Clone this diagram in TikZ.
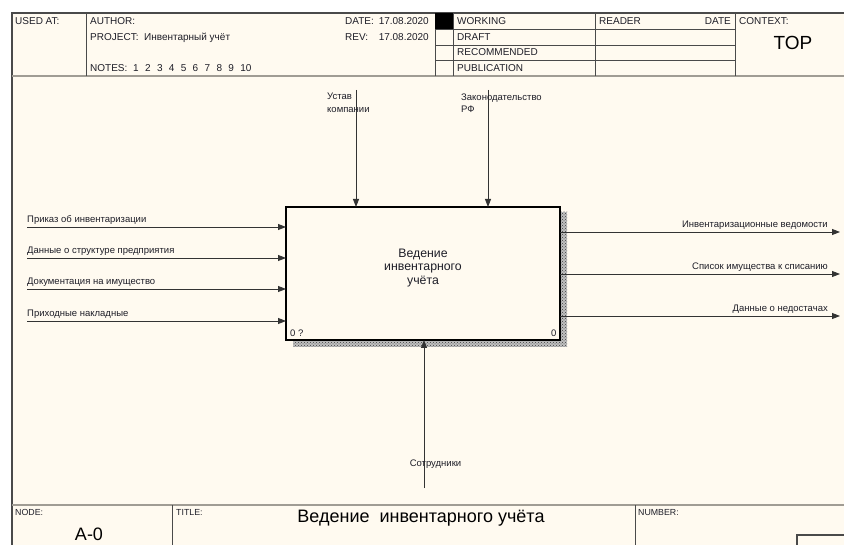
\documentclass[tikz,border=0pt]{standalone}
\usepackage{fontspec}
\setmainfont{Liberation Sans}
\usepackage{tkz-euclide}
\usetikzlibrary{arrows.meta,patterns}

\definecolor{paper}{HTML}{FFFAF0}
\definecolor{frameline}{HTML}{4A4A4A}
\definecolor{softline}{HTML}{A09C94}
\definecolor{ink}{HTML}{1E1E28}

\tikzset{
  flow/.style={line width=0.9pt,draw=black!80,-{Triangle[length=8pt,width=6pt]}},
  hdr/.style={font=\fontsize{10}{12}\selectfont,text=ink,inner sep=0pt,anchor=base west},
  tag/.style={font=\fontsize{9.5}{12.5}\selectfont,text=ink,inner sep=0pt,anchor=base west},
  rtag/.style={tag,anchor=base east},
  foot/.style={font=\fontsize{8.8}{10}\selectfont,text=ink,inner sep=0pt,anchor=base west},
  big/.style={font=\fontsize{18}{20}\selectfont,text=black,inner sep=0pt,anchor=base}
}

\begin{document}
\begin{tikzpicture}[x=1pt,y=-1pt]
\useasboundingbox (0,0) rectangle (844,545);
\fill[white] (0,0) rectangle (844,545);
\fill[paper] (12,13) rectangle (844,545);

% form lines
\draw[frameline,line width=1.3pt] (12,545) -- (12,13) -- (844,13);
\draw[softline,line width=1.8pt] (12,76) -- (844,76);
\draw[softline,line width=1.8pt] (12,505) -- (844,505);
\draw[frameline] (86,13) -- (86,76) (435,13) -- (435,76) (453,13) -- (453,76)
  (595,13) -- (595,76) (735,13) -- (735,76);
\foreach \y in {29,45,60} \draw[frameline] (435,\y) -- (735,\y);
\fill[black] (435,13) rectangle (453,29);
\draw[frameline] (172,505) -- (172,545) (635,505) -- (635,545);
\draw[frameline,line width=1.3pt] (797,545) -- (797,535) -- (844,535);

% header texts
\node[hdr] (usedat) at (15,25) {USED AT:};
\node[hdr] (author) at (90,25) {AUTHOR:};
\node[hdr] (project) at (90,40.5) {PROJECT:\ \ Инвентарный учёт};
\node[hdr] (notes) at (90,72) {NOTES:};
\foreach \n in {1,...,10} \node[hdr] at ({133+11.9*(\n-1)},72) {\n};
\node[hdr] (date) at (345,25) {DATE:};
\node[hdr,anchor=base east] (dateval) at (429,25) {17.08.2020};
\node[hdr] (rev) at (345,40.5) {REV:};
\node[hdr,anchor=base east] (revval) at (429,40.5) {17.08.2020};
\node[hdr] (working) at (457,25) {WORKING};
\node[hdr] (draft) at (457,40.5) {DRAFT};
\node[hdr] (recommended) at (457,56) {RECOMMENDED};
\node[hdr] (publication) at (457,71.5) {PUBLICATION};
\node[hdr] (reader) at (599,25) {READER};
\node[hdr,anchor=base east] (readerdate) at (731,25) {DATE};
\node[hdr] (context) at (739,25) {CONTEXT:};
\node[font=\fontsize{19}{21}\selectfont,inner sep=0pt,anchor=base] (top) at (793,50) {TOP};

% footer texts
\node[foot] (nodelbl) at (15,515) {NODE:};
\node[big] (nodenum) at (89,540.5) {A-0};
\node[foot] (titlelbl) at (176,515) {TITLE:};
\node[big] (title) at (421,522) {Ведение\ \ инвентарного учёта};
\node[foot] (numberlbl) at (638,515) {NUMBER:};

% activity box with shadow
\fill[black!25] (293,212) rectangle (567,347);
\fill[pattern=crosshatch dots,pattern color=black!75] (293,212) rectangle (567,347);
\node[draw=black,line width=1.7pt,fill=paper,minimum width=274pt,minimum height=133pt,
  outer sep=0pt,inner sep=0pt] (box) at (423,273.5) {};
\node[align=center,font=\fontsize{12.3}{13.2}\selectfont,text=ink,inner sep=0pt]
  (boxname) at ([yshift=5.5pt]box.center) {Ведение\\инвентарного\\учёта};
\node[tag] (cost) at ([xshift=4pt,yshift=3.5pt]box.south west) {0 ?};
\node[rtag] (boxnum) at ([xshift=-3.5pt,yshift=3.5pt]box.south east) {0};

\tkzDefPoints{27/227/Ia,27/258/Ib,27/289/Ic,27/321/Id}
\tkzDefPoints{356/90/Ca,488/90/Cb,424/488/Ma}
\tkzDefPoints{840/232/Oa,840/274/Ob,840/316/Oc}

% inputs
\foreach \p in {Ia,Ib,Ic,Id} \draw[flow] (\p) -- (\p -| box.west);
\tkzLabelPoint[tag,yshift=4pt](Ia){Приказ об инвентаризации}
\tkzLabelPoint[tag,yshift=4pt](Ib){Данные о структуре предприятия}
\tkzLabelPoint[tag,yshift=4pt](Ic){Документация на имущество}
\tkzLabelPoint[tag,yshift=4pt](Id){Приходные накладные}

% controls
\foreach \p in {Ca,Cb} \draw[flow] (\p) -- (\p |- box.north);
\node[tag,anchor=north west,align=left] (ctrla) at (327,93.2) {Устав\\компании};
\node[tag,anchor=north west,align=left] (ctrlb) at (461,93.2) {Законодательство\\РФ};

% outputs
\foreach \p in {Oa,Ob,Oc} \draw[flow] (\p -| box.east) -- (\p);
\node[rtag] (outa) at (828,228) {Инвентаризационные ведомости};
\node[rtag] (outb) at (828,270) {Список имущества к списанию};
\node[rtag] (outc) at (828,312) {Данные о недостачах};

% mechanism
\draw[flow] (Ma) -- (Ma |- box.south);
\node[tag,anchor=base] (mech) at (435.5,466) {Сотрудники};

\end{tikzpicture}
\end{document}
